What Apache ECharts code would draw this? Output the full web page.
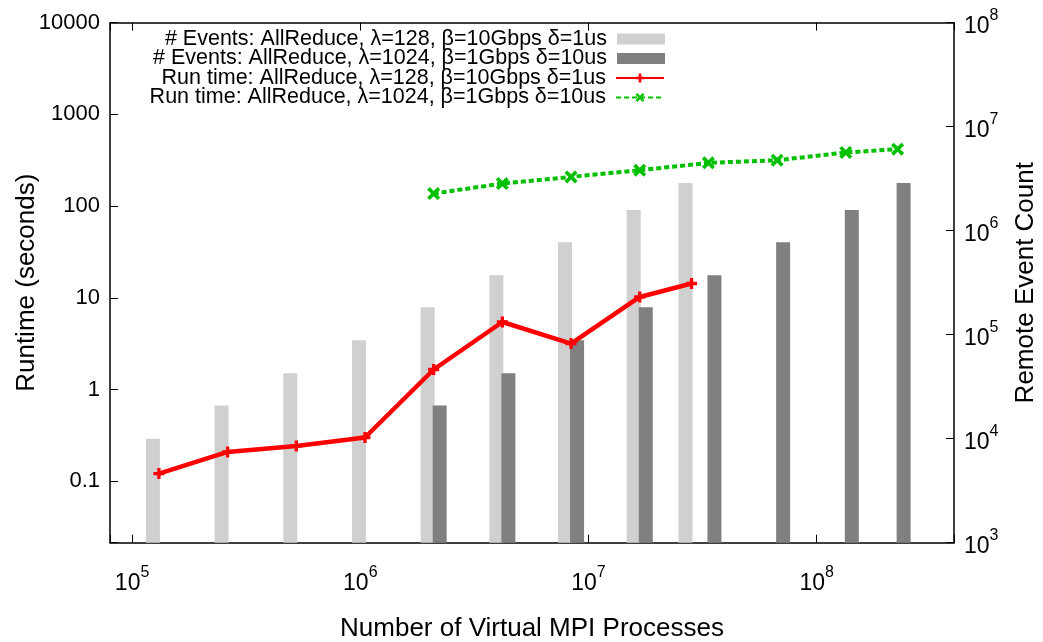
<!DOCTYPE html>
<html><head><meta charset="utf-8">
<script src="https://cdn.jsdelivr.net/npm/echarts@6/dist/echarts.min.js"></script>
<style>html,body{margin:0;padding:0;background:#fff}#c{width:1043px;height:642px}</style>
</head><body><div id="c"></div>
<script>
// ---- data ----
const seriesNames = [
  '# Events: AllReduce, \u03bb=128, \u03b2=10Gbps \u03b4=1us',
  '# Events: AllReduce, \u03bb=1024, \u03b2=1Gbps \u03b4=10us',
  'Run time: AllReduce, \u03bb=128, \u03b2=10Gbps \u03b4=1us',
  'Run time: AllReduce, \u03bb=1024, \u03b2=1Gbps \u03b4=10us'
];
const procs128  = [131072, 262144, 524288, 1048576, 2097152, 4194304, 8388608, 16777216, 28300000];
const procs1024 = [2097152, 4194304, 8388608, 16777216, 33554432, 67108864, 134217728, 226400000];
const events128  = [10000, 20900, 42500, 88300, 183500, 373000, 776000, 1580000, 2880000];
const events1024 = [20900, 42500, 88300, 183500, 373000, 776000, 1580000, 2880000];
const runtime128  = [0.121, 0.208, 0.242, 0.299, 1.65, 5.44, 3.16, 10.2, 14.3];
const runtime1024 = [137, 176, 208, 246, 296, 316, 384, 417];
const xTitle = 'Number of Virtual MPI Processes';
const yTitle = 'Runtime (seconds)';
const y2Title = 'Remote Event Count';

// ---- styling ----
const FONT = 'Liberation Sans';
const plusPath = 'path://M3.5,0H6.5V3.5H10V6.5H6.5V10H3.5V6.5H0V3.5H3.5Z';
const crossPath = 'path://M0,2L2,0L5,3L8,0L10,2L7,5L10,8L8,10L5,7L2,10L0,8L3,5Z';

function isPow10(v) { const l = Math.log10(v); return Math.abs(l - Math.round(l)) < 1e-6; }
function plainFmt(v) {
  if (!isPow10(v)) return '';
  const e = Math.round(Math.log10(v));
  return e < 0 ? Math.pow(10, e).toFixed(-e) : String(Math.round(Math.pow(10, e)));
}
function supFmt(v) {
  if (!isPow10(v)) return '';
  return '{b|10}{s|' + Math.round(Math.log10(v)) + '}';
}
const supRich = {
  b: { fontSize: 23, fontFamily: FONT, color: '#000', lineHeight: 30, verticalAlign: 'bottom' },
  s: { fontSize: 16, fontFamily: FONT, color: '#000', lineHeight: 16, verticalAlign: 'top' }
};

const axisCommon = {
  axisLine: { show: true, onZero: false, lineStyle: { color: '#000', width: 1.5 } },
  axisTick: { show: true, inside: true, length: 8, lineStyle: { color: '#000', width: 1 } },
  splitLine: { show: false },
  nameMoveOverlap: false,
  nameTextStyle: { fontFamily: FONT, fontSize: 26, color: '#000' }
};

const legendTops = [28, 47.5, 67, 86.5];
const legends = seriesNames.map((n, i) => ({
  data: [i < 2 ? { name: n, icon: 'rect' } : n],
  orient: 'vertical', right: 378, top: legendTops[i], align: 'right',
  itemWidth: 48, itemHeight: 11, padding: 0, itemGap: 0, selectedMode: false,
  textStyle: { fontFamily: FONT, fontSize: 21.5, color: '#000', padding: [0, 5, 0, 0] }
}));

const chart = echarts.init(document.getElementById('c'), null, { renderer: 'canvas' });
chart.setOption({
  animation: false,
  backgroundColor: '#fff',
  legend: legends,
  grid: { left: 110, right: 89, top: 22.7, bottom: 99.3, show: false, outerBoundsMode: 'none', containLabel: false },
  xAxis: [
    Object.assign({}, axisCommon, {
      type: 'log', logBase: 10, min: 80000, max: 4e8, position: 'bottom',
      name: xTitle, nameLocation: 'middle', nameGap: 73,
      axisLabel: { formatter: supFmt, rich: supRich, margin: 22, showMinLabel: true, showMaxLabel: true }
    }),
    Object.assign({}, axisCommon, {
      type: 'log', logBase: 10, min: 80000, max: 4e8, position: 'top',
      axisLabel: { show: false }
    })
  ],
  yAxis: [
    Object.assign({}, axisCommon, {
      type: 'log', logBase: 10, min: 0.0213, max: 10000, position: 'left',
      name: yTitle, nameLocation: 'middle', nameRotate: 90, nameGap: 70,
      axisLabel: { formatter: plainFmt, fontFamily: FONT, fontSize: 22, color: '#000', margin: 10 }
    }),
    Object.assign({}, axisCommon, {
      type: 'log', logBase: 10, min: 1000, max: 1e8, position: 'right', startValue: 1000,
      name: y2Title, nameLocation: 'middle', nameRotate: 90, nameGap: 59,
      axisLabel: { formatter: supFmt, rich: supRich, margin: 10 }
    })
  ],
  series: [
    { name: seriesNames[0], type: 'bar', xAxisIndex: 0, yAxisIndex: 1,
      data: procs128.map((x, i) => [x, events128[i]]),
      barWidth: 14, barGap: '-14%', itemStyle: { color: '#d0d0d0' }, z: 1 },
    { name: seriesNames[1], type: 'bar', xAxisIndex: 0, yAxisIndex: 1,
      data: procs1024.map((x, i) => [x, events1024[i]]),
      barWidth: 14, barGap: '-14%', itemStyle: { color: '#808080' }, z: 1 },
    { name: seriesNames[2], type: 'line', xAxisIndex: 0, yAxisIndex: 0,
      data: procs128.map((x, i) => [x, runtime128[i]]),
      symbol: plusPath, symbolSize: 11, showAllSymbol: true,
      lineStyle: { color: '#ff0000', width: 4.5 }, itemStyle: { color: '#ff0000' }, z: 3 },
    { name: seriesNames[3], type: 'line', xAxisIndex: 0, yAxisIndex: 0,
      data: procs1024.map((x, i) => [x, runtime1024[i]]),
      symbol: crossPath, symbolSize: 13, showAllSymbol: true,
      lineStyle: { color: '#00c000', width: 4, type: [5, 3] }, itemStyle: { color: '#00c000' }, z: 3 }
  ]
});
</script></body></html>
